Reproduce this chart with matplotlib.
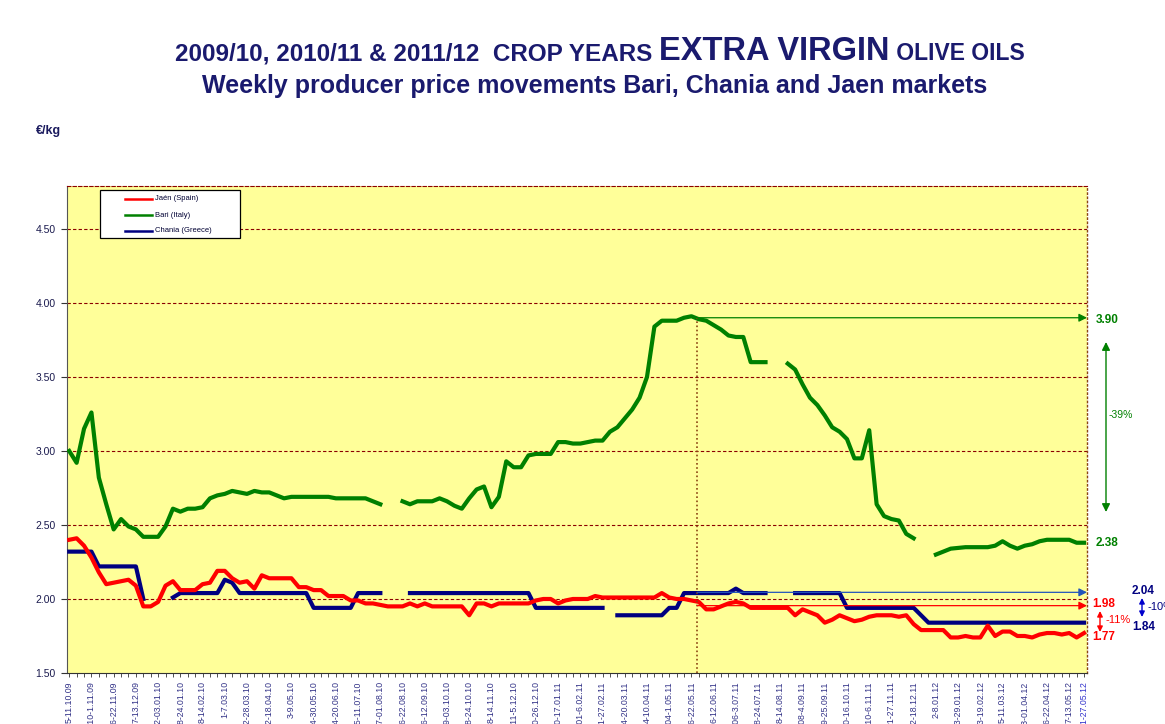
import numpy as np
import matplotlib
matplotlib.use("Agg")
import matplotlib.pyplot as plt
from matplotlib.patches import Rectangle, FancyArrowPatch
from matplotlib.lines import Line2D

plt.rcParams['font.family'] = ['Liberation Sans', 'DejaVu Sans']

nan = np.nan
jaen = [2.40, 2.41, 2.36, 2.28, 2.18, 2.10, 2.11, 2.12, 2.13, 2.09,
        1.95, 1.95, 1.98, 2.09, 2.12, 2.06, 2.06, 2.06, 2.10, 2.11,
        2.19, 2.19, 2.14, 2.11, 2.12, 2.07, 2.16, 2.14, 2.14, 2.14,
        2.14, 2.08, 2.08, 2.06, 2.06, 2.02, 2.02, 2.02, 1.99, 1.99,
        1.97, 1.97, 1.96, 1.95, 1.95, 1.95, 1.97, 1.95, 1.97, 1.95,
        1.95, 1.95, 1.95, 1.95, 1.89, 1.97, 1.97, 1.95, 1.97, 1.97,
        1.97, 1.97, 1.97, 1.99, 2.00, 2.00, 1.97, 1.99, 2.00, 2.00,
        2.00, 2.02, 2.01, 2.01, 2.01, 2.01, 2.01, 2.01, 2.01, 2.01,
        2.04, 2.01, 2.00, 2.00, 1.99, 1.98, 1.93, 1.93, 1.95, 1.97,
        1.98, 1.97, 1.94, 1.94, 1.94, 1.94, 1.94, 1.94, 1.89, 1.93,
        1.91, 1.89, 1.84, 1.86, 1.89, 1.87, 1.85, 1.86, 1.88, 1.89,
        1.89, 1.89, 1.88, 1.89, 1.83, 1.79, 1.79, 1.79, 1.79, 1.74,
        1.74, 1.75, 1.74, 1.74, 1.82, 1.75, 1.78, 1.78, 1.75, 1.75,
        1.74, 1.76, 1.77, 1.77, 1.76, 1.77, 1.74, 1.77]

bari = [3.00, 2.92, 3.15, 3.26, 2.82, 2.64, 2.47, 2.54, 2.49, 2.47,
        2.42, 2.42, 2.42, 2.49, 2.61, 2.59, 2.61, 2.61, 2.62, 2.68,
        2.70, 2.71, 2.73, 2.72, 2.71, 2.73, 2.72, 2.72, 2.70, 2.68,
        2.69, 2.69, 2.69, 2.69, 2.69, 2.69, 2.68, 2.68, 2.68, 2.68,
        2.68, 2.66, 2.64, nan, nan, 2.66, 2.64, 2.66, 2.66, 2.66,
        2.68, 2.66, 2.63, 2.61, 2.68, 2.74, 2.76, 2.62, 2.69, 2.93,
        2.89, 2.89, 2.97, 2.98, 2.98, 2.98, 3.06, 3.06, 3.05, 3.05,
        3.06, 3.07, 3.07, 3.13, 3.16, 3.22, 3.28, 3.36, 3.50, 3.84,
        3.88, 3.88, 3.88, 3.90, 3.91, 3.89, 3.88, 3.85, 3.82, 3.78,
        3.77, 3.77, 3.60, 3.60, 3.60, nan, nan, 3.59, 3.55, 3.45,
        3.36, 3.31, 3.24, 3.16, 3.13, 3.08, 2.95, 2.95, 3.14, 2.64,
        2.56, 2.54, 2.53, 2.44, 2.41, nan, nan, 2.30, 2.32, 2.34,
        2.345, 2.35, 2.35, 2.35, 2.35, 2.36, 2.39, 2.36, 2.34, 2.36,
        2.37, 2.39, 2.40, 2.40, 2.40, 2.40, 2.38, 2.38]

chania = [2.32, 2.32, 2.32, 2.32, 2.22, 2.22, 2.22, 2.22, 2.22, 2.22,
          2.00, nan, nan, nan, 2.01, 2.04, 2.04, 2.04, 2.04, 2.04,
          2.04, 2.13, 2.11, 2.04, 2.04, 2.04, 2.04, 2.04, 2.04, 2.04,
          2.04, 2.04, 2.04, 1.94, 1.94, 1.94, 1.94, 1.94, 1.94, 2.04,
          2.04, 2.04, 2.04, nan, nan, nan, 2.04, 2.04, 2.04, 2.04,
          2.04, 2.04, 2.04, 2.04, 2.04, 2.04, 2.04, 2.04, 2.04, 2.04,
          2.04, 2.04, 2.04, 1.94, 1.94, 1.94, 1.94, 1.94, 1.94, 1.94,
          1.94, 1.94, 1.94, nan, 1.89, 1.89, 1.89, 1.89, 1.89, 1.89,
          1.89, 1.94, 1.94, 2.04, 2.04, 2.04, 2.04, 2.04, 2.04, 2.04,
          2.07, 2.04, 2.04, 2.04, 2.04, nan, nan, nan, 2.04, 2.04,
          2.04, 2.04, 2.04, 2.04, 2.04, 1.94, 1.94, 1.94, 1.94, 1.94,
          1.94, 1.94, 1.94, 1.94, 1.94, 1.89, 1.84, 1.84, 1.84, 1.84,
          1.84, 1.84, 1.84, 1.84, 1.84, 1.84, 1.84, 1.84, 1.84, 1.84,
          1.84, 1.84, 1.84, 1.84, 1.84, 1.84, 1.84, 1.84]

week_labels = ["5-11.10.09", "26.10-1.11.09", "16-22.11.09", "7-13.12.09",
               "28.12-03.01.10", "18-24.01.10", "8-14.02.10", "1-7.03.10",
               "22-28.03.10", "12-18.04.10", "3-9.05.10", "24-30.05.10",
               "14-20.06.10", "05-11.07.10", "26.07-01.08.10", "16-22.08.10",
               "06-12.09.10", "27.09-03.10.10", "18-24.10.10", "8-14.11.10",
               "29.11-5.12.10", "20-26.12.10", "10-17.01.11", "31.01-6.02.11",
               "21-27.02.11", "14-20.03.11", "4-10.04.11", "25.04-1.05.11",
               "16-22.05.11", "6-12.06.11", "27.06-3.07.11", "18-24.07.11",
               "8-14.08.11", "29.08-4.09.11", "19-25.09.11", "10-16.10.11",
               "31.10-6.11.11", "21-27.11.11", "12-18.12.11", "2-8.01.12",
               "23-29.01.12", "13-19.02.12", "5-11.03.12", "26.3-01.04.12",
               "16-22.04.12", "7-13.05.12", "21-27.05.12"]
label_pos = list(range(0, 136, 3)) + [137]

series_names = ['Jaén (Spain)', 'Bari (Italy)', 'Chania (Greece)']

ref_week = 84.8
peak_bari, last_bari = 3.90, 2.38
ref_chania, last_chania = 2.04, 1.84
ref_jaen, last_jaen = 1.98, 1.77

W, H = 1165, 724
fig = plt.figure(figsize=(W / 100, H / 100), dpi=100)
fig.patch.set_facecolor('white')

def fx(px):
    return px / W

def fy(py):
    return 1 - py / H

ax = fig.add_axes([fx(67), fy(673), fx(1087) - fx(67), fy(186) - fy(673)])
ax.set_facecolor('#FFFF99')

n = len(jaen)
x = np.arange(n)
RED, GREEN, NAVY = '#FF0000', '#008000', '#000080'
colors = [RED, GREEN, NAVY]
ax.plot(x, jaen, color=RED, lw=3.0, solid_joinstyle='round', zorder=5)
ax.plot(x, bari, color=GREEN, lw=3.0, solid_joinstyle='round', zorder=4)
ax.plot(x, chania, color=NAVY, lw=3.0, solid_joinstyle='round', zorder=3)

ax.set_xlim(-0.3, 137.4)
ax.set_ylim(1.5, 4.79)

grid_c = '#8B0000'
for yv in [2.0, 2.5, 3.0, 3.5, 4.0, 4.5]:
    ax.axhline(yv, color=grid_c, lw=0.8, ls=(0, (3, 2)), zorder=1)

ax.spines['top'].set_linestyle((0, (3, 2)))
ax.spines['top'].set_color(grid_c)
ax.spines['top'].set_linewidth(0.8)
ax.spines['right'].set_linestyle((0, (1, 2)))
ax.spines['right'].set_color('#8B4513')
ax.spines['right'].set_linewidth(1.0)
ax.spines['left'].set_color('#555555')
ax.spines['bottom'].set_color('#333333')

ax.set_yticks([1.5, 2.0, 2.5, 3.0, 3.5, 4.0, 4.5])
ax.set_yticklabels(['1.50', '2.00', '2.50', '3.00', '3.50', '4.00', '4.50'],
                   fontsize=7.5, color='#1a1a4e')
ax.tick_params(axis='y', length=4, width=0.8, color='#333333', pad=4)

ax.set_xticks(label_pos)
ax.set_xticklabels(week_labels, rotation=90, fontsize=6.3, color='#333388')
ax.get_xticklabels()[-1].set_color('#3333CC')
ax.set_xticks(x, minor=True)
ax.tick_params(axis='x', which='both', length=3, width=0.6, color='#333333', pad=3)

# reference markers
ax.plot([ref_week, ref_week], [1.5, peak_bari], color='#8B4513', lw=1.2,
        ls=(0, (1, 1.5)), zorder=6)
xr = 137.4
for yv, c in [(peak_bari, GREEN), (ref_chania + 0.005, '#2255BB'), (1.955, RED)]:
    ax.annotate('', xy=(xr, yv), xytext=(ref_week, yv), xycoords='data',
                arrowprops=dict(arrowstyle='-|>', color=c, lw=0.9,
                                mutation_scale=12, shrinkA=0, shrinkB=0),
                zorder=7, annotation_clip=False)

# legend box (drawn manually to match the original spacing)
fig.add_artist(Rectangle((fx(100), fy(238)), fx(240) - fx(100), fy(190) - fy(238),
                         transform=fig.transFigure, facecolor='white',
                         edgecolor='black', lw=0.9, zorder=10))
for name, c, ly in zip(series_names, colors, [199, 215, 231]):
    fig.add_artist(Line2D([fx(125), fx(152)], [fy(ly), fy(ly)],
                          transform=fig.transFigure, color=c, lw=1.8, zorder=11))
    fig.text(fx(155), fy(ly), name, fontsize=5.5, color='#000033',
             va='center', ha='left', zorder=11)

# right side annotations
def farrow(x0, y0, x1, y1, c, ms=10):
    fig.add_artist(FancyArrowPatch(
        (fx(x0), fy(y0)), (fx(x1), fy(y1)), transform=fig.transFigure,
        arrowstyle='<|-|>', color=c, lw=1.0,
        mutation_scale=ms, shrinkA=0, shrinkB=0))

fig.text(fx(1096), fy(320), f'{peak_bari:.2f}', color=GREEN, fontsize=8.5,
         fontweight='bold', va='center', ha='left')
fig.text(fx(1096), fy(543), f'{last_bari:.2f}', color=GREEN, fontsize=8.5,
         fontweight='bold', va='center', ha='left')
farrow(1106, 342, 1106, 512, GREEN, ms=12)
fig.text(fx(1109), fy(415), '-39%', color=GREEN, fontsize=7.5,
         va='center', ha='left')

fig.text(fx(1092), fy(604), f'{ref_jaen:.2f}', color=RED, fontsize=8.5,
         fontweight='bold', va='center', ha='left')
fig.text(fx(1092), fy(637), f'{last_jaen:.2f}', color=RED, fontsize=8.5,
         fontweight='bold', va='center', ha='left')
farrow(1100, 611, 1100, 632, RED, ms=8)
fig.text(fx(1105), fy(620), '-11%', color=RED, fontsize=8,
         va='center', ha='left')

fig.text(fx(1132), fy(591), f'{ref_chania:.2f}', color=NAVY, fontsize=8.5,
         fontweight='bold', va='center', ha='left')
fig.text(fx(1132), fy(627), f'{last_chania:.2f}', color=NAVY, fontsize=8.5,
         fontweight='bold', va='center', ha='left')
farrow(1142, 598, 1142, 617, '#0000CC', ms=8)
fig.text(fx(1147), fy(607), '-10%', color=NAVY, fontsize=8,
         va='center', ha='left')

fig.text(fx(36), fy(131), '€/kg', color='#1a1a5e', fontsize=9,
         fontweight='bold', va='center', ha='left')

# title
TC = '#1a1a6e'
parts = [('2009/10, 2010/11 & 2011/12  CROP YEARS ', 17.5),
         ('EXTRA VIRGIN', 23.5), (' OLIVE OILS', 16.5)]
renderer = fig.canvas.get_renderer()
texts = []
for s, size in parts:
    t = fig.text(0, fy(60), s, color=TC, fontsize=size, fontweight='bold',
                 va='baseline', ha='left')
    texts.append(t)
widths = [t.get_window_extent(renderer).width for t in texts]
total = sum(widths)
x0 = 600 - total / 2
for t, w in zip(texts, widths):
    t.set_x(fx(x0))
    x0 += w
fig.text(fx(595), fy(86), 'Weekly producer price movements Bari, Chania and Jaen markets',
         color=TC, fontsize=18, fontweight='bold', va='center', ha='center')

fig.savefig('out.png', dpi=100, facecolor='white')
